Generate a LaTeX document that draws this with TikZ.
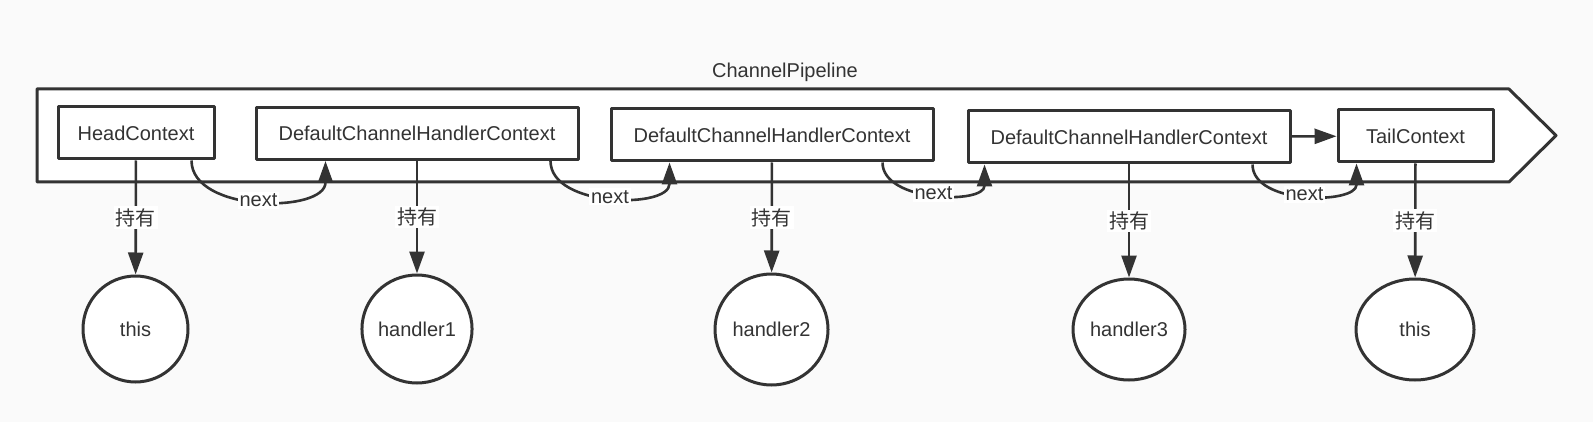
\documentclass[tikz,border=0pt]{standalone}
\usepackage{fontspec}
\setmainfont{Liberation Sans}
\newfontfamily\cjk{Noto Sans CJK SC}
\usetikzlibrary{arrows.meta,shapes.geometric}
\definecolor{ink}{HTML}{333333}
\definecolor{paper}{HTML}{FAFAFA}
\begin{document}
\begin{tikzpicture}[x=0.5pt, y=-0.5pt, font=\fontsize{10}{12}\selectfont, text=ink, line join=round, >={Triangle[length=11pt,width=7.5pt]},
	ctx/.style={draw=ink, fill=white, line width=1.5pt, minimum height=26pt, inner sep=0pt},
	obj/.style={ellipse, draw=ink, fill=white, line width=1.5pt, inner sep=0pt},
	link/.style={draw=ink, line width=1.3pt},
	tag/.style={fill=white, inner sep=1pt}]
	\fill[paper] (0,0) rectangle (1593,422);
	\useasboundingbox (0,0) rectangle (1593,422);
	\draw[ink, fill=white, line width=1.5pt] (37,89) -- (1509,89) -- (1556,135.5) -- (1509,182) -- (37,182) -- cycle;
	\node (pipelabel) at (785,72) {ChannelPipeline};
	\node[ctx, minimum width=78pt] (head) at (136,133) {HeadContext};
	\node[ctx, minimum width=161pt] (ctx1) at (417,133.5) {DefaultChannelHandlerContext};
	\node[ctx, minimum width=161pt] (ctx2) at (772,135) {DefaultChannelHandlerContext};
	\node[ctx, minimum width=161pt] (ctx3) at (1129,137) {DefaultChannelHandlerContext};
	\node[ctx, minimum width=77.5pt] (tail) at (1415.5,136) {TailContext};
	\node[obj, minimum width=52.5pt, minimum height=53pt] (this1) at (135.5,329) {this};
	\node[obj, minimum width=53pt, minimum height=54pt] (handler1) at (417,329) {handler1};
	\node[obj, minimum width=56.5pt, minimum height=55.5pt] (handler2) at (771.5,329.5) {handler2};
	\node[obj, minimum width=56pt, minimum height=50.5pt] (handler3) at (1129,329.5) {handler3};
	\node[obj, minimum width=59pt, minimum height=50.5pt] (this2) at (1415,329.5) {this};
	\foreach \c/\o in {head/this1, ctx1/handler1, ctx2/handler2, ctx3/handler3, tail/this2}
	\draw[link,->] (\c) -- node[tag]{\cjk 持有} (\o);
	\foreach \a/\b/\da/\db in {head/ctx1/-12/35.5, ctx1/ctx2/-14.5/30, ctx2/ctx3/-26/9, ctx3/tail/-19.5/10}
	\draw[link,->] ([xshift=\da pt]\a.south east) to[out=-90,in=-90] node[tag]{next} ([xshift=\db pt]\b.south west);
	\draw[link,->] (ctx3) -- (tail);
\end{tikzpicture}
\end{document}
